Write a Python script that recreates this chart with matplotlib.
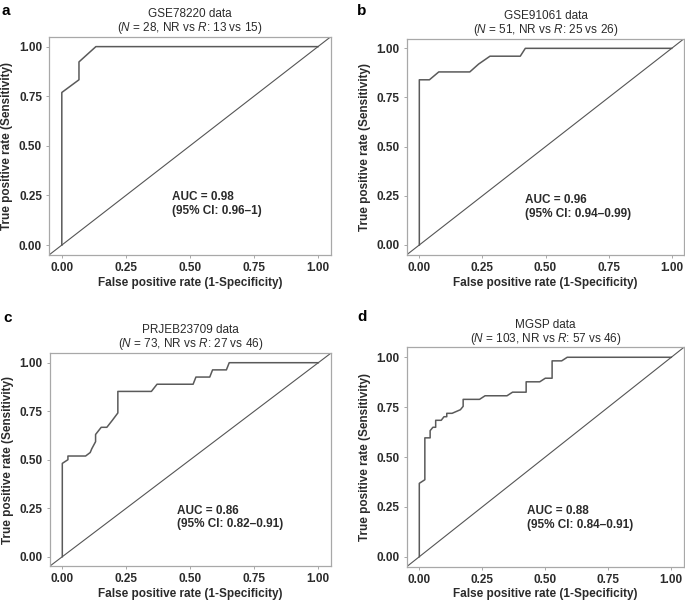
import matplotlib
matplotlib.use("Agg")
import matplotlib.pyplot as plt

plt.rcParams['font.family'] = ['Liberation Sans', 'DejaVu Sans']
plt.rcParams['mathtext.fontset'] = 'custom'
plt.rcParams['mathtext.rm'] = 'Liberation Sans'
plt.rcParams['mathtext.it'] = 'Liberation Sans:italic'

# ROC curves (FPR, TPR)
fpr_a = [0, 0, 0.067, 0.067, 0.133, 1.0]
tpr_a = [0, 0.769, 0.833, 0.923, 1.0, 1.0]

fpr_b = [0, 0, 0.04, 0.077, 0.2, 0.235, 0.28, 0.4, 0.42, 1.0]
tpr_b = [0, 0.84, 0.84, 0.88, 0.88, 0.92, 0.96, 0.96, 1.0, 1.0]

fpr_c = [0, 0, 0.022, 0.022, 0.091, 0.109, 0.115, 0.130, 0.130, 0.152, 0.174,
         0.196, 0.217, 0.217, 0.348, 0.370, 0.511, 0.522, 0.576, 0.587, 0.641,
         0.652, 1.0]
tpr_c = [0, 0.481, 0.5, 0.519, 0.519, 0.537, 0.556, 0.593, 0.630, 0.667, 0.667,
         0.704, 0.741, 0.852, 0.852, 0.889, 0.889, 0.926, 0.926, 0.963, 0.963,
         1.0, 1.0]

fpr_d = [0, 0, 0.022, 0.022, 0.043, 0.043, 0.054, 0.065, 0.065, 0.087, 0.098,
         0.109, 0.109, 0.130, 0.163, 0.174, 0.174, 0.239, 0.261, 0.348, 0.370,
         0.424, 0.424, 0.478, 0.500, 0.527, 0.527, 0.565, 0.587, 1.0]
tpr_d = [0, 0.368, 0.386, 0.596, 0.596, 0.632, 0.649, 0.649, 0.684, 0.684, 0.702,
         0.702, 0.719, 0.719, 0.737, 0.754, 0.789, 0.789, 0.807, 0.807, 0.825,
         0.825, 0.877, 0.877, 0.895, 0.895, 0.982, 0.982, 1.0, 1.0]

letters = ["a", "b", "c", "d"]
datasets = ["GSE78220", "GSE91061", "PRJEB23709", "MGSP"]
n_total = [28, 51, 73, 103]
n_nr = [13, 25, 27, 57]
n_r = [15, 26, 46, 46]
auc = ["0.98", "0.96", "0.86", "0.88"]
ci = ["0.96\u20131", "0.94\u20130.99", "0.82\u20130.91", "0.84\u20130.91"]
fprs = [fpr_a, fpr_b, fpr_c, fpr_d]
tprs = [tpr_a, tpr_b, tpr_c, tpr_d]

# axes boxes in figure pixels: left, top, right, bottom
boxes = [(49, 36.7, 330.8, 255), (406.7, 38.5, 684.3, 254.8),
         (49.5, 353, 331.1, 566.4), (406.7, 347.3, 683.9, 566.7)]
auc_pos = [(0.43, 0.244), (0.419, 0.229), (0.447, 0.237), (0.427, 0.231)]
letter_pos = [(2, 11), (357, 11), (3, 318), (357, 317)]

W, H = 685, 601
fig = plt.figure(figsize=(W / 100, H / 100), dpi=100)

frame_col = "#a8a8a8"
text_col = "#2b2b2b"

for i in range(4):
    l, t, r, b = boxes[i]
    ax = fig.add_axes([l / W, 1 - b / H, (r - l) / W, (b - t) / H])
    ax.plot(fprs[i], tprs[i], color="#5a5a5a", lw=1.1)
    ax.axline((0, 0), slope=1, color="#555555", lw=0.8)
    ax.set_xlim(-0.05, 1.05)
    ax.set_ylim(-0.05, 1.05)
    ticks = [0, 0.25, 0.5, 0.75, 1.0]
    ax.set_xticks(ticks)
    ax.set_yticks(ticks)
    ax.set_xticklabels(["%.2f" % v for v in ticks])
    ax.set_yticklabels(["%.2f" % v for v in ticks])
    for s in ax.spines.values():
        s.set_color(frame_col)
        s.set_linewidth(0.9)
    ax.tick_params(length=2.5, width=0.7, color=frame_col, labelsize=8.5,
                   labelcolor=text_col, pad=2.5)
    for lab in ax.get_xticklabels() + ax.get_yticklabels():
        lab.set_fontweight("bold")
    ax.set_xlabel("False positive rate (1-Specificity)", fontsize=8.5,
                  fontweight="bold", color=text_col, labelpad=2)
    ax.set_ylabel("True positive rate (Sensitivity)", fontsize=8.5,
                  fontweight="bold", color=text_col, labelpad=4)
    title = "%s data\n($\\mathit{N}$ = %d, NR vs $\\mathit{R}$: %d vs %d)" % (
        datasets[i], n_total[i], n_nr[i], n_r[i])
    ax.set_title(title, fontsize=8.5, color=text_col, pad=4, linespacing=1.0)
    ax.text(auc_pos[i][0], auc_pos[i][1], "AUC = %s" % auc[i], fontsize=8.5,
            fontweight="bold", color=text_col, va="center", ha="left")
    ax.text(auc_pos[i][0], auc_pos[i][1] - 0.07, "(95%% CI: %s)" % ci[i],
            fontsize=8.5, fontweight="bold", color=text_col, va="center",
            ha="left")
    fig.text(letter_pos[i][0] / W, 1 - letter_pos[i][1] / H, letters[i],
             fontsize=11, fontweight="bold", va="center", ha="left")

fig.savefig("out.png", dpi=100)
